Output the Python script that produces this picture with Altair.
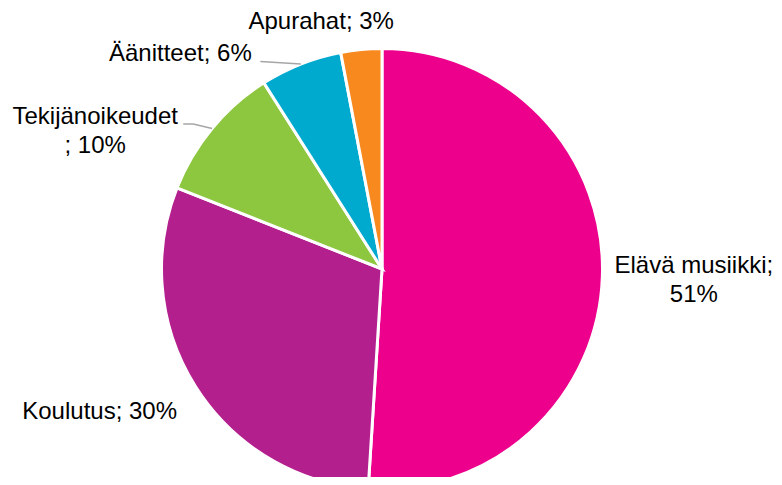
import math
import altair as alt
import pandas as pd

# ---- data ----
categories = ["Elävä musiikki", "Koulutus", "Tekijänoikeudet", "Äänitteet", "Apurahat"]
shares = [51, 30, 10, 6, 3]
label_texts = ["Elävä musiikki;\n51%", "Koulutus; 30%", "Tekijänoikeudet\n; 10%", "Äänitteet; 6%", "Apurahat; 3%"]
colors = ["#EC008C", "#B41F8E", "#8DC63F", "#00A9CE", "#F7891F"]

# ---- layout ----
W, H = 766, 469
CX, CY, R = 374, 261, 220.5
LABEL_R = 306
label_nudge = [(6, -13), (-24, -21), (-51, 43), (-89, 70), (-32, 58)]
# leader line start points relative to label anchor (None = no leader)
leader_start = [None, None, [(88, 7), (98, 7)], [(80, 7)], None]

total = sum(shares)
rows, texts, lines = [], [], []
cum = 0.0
for i, (c, v) in enumerate(zip(categories, shares)):
    mid = 2 * math.pi * (cum + v / 2) / total
    cum += v
    rows.append({"cat": c, "val": v, "idx": i})
    lx = CX + LABEL_R * math.sin(mid) + label_nudge[i][0]
    ly = CY - LABEL_R * math.cos(mid) + label_nudge[i][1]
    texts.append({"cat": c, "txt": label_texts[i], "x": lx, "y": ly})
    if leader_start[i]:
        pts = [(lx + dx, ly + dy) for dx, dy in leader_start[i]]
        pts.append((CX + R * math.sin(mid), CY - R * math.cos(mid)))
        for k, (px, py) in enumerate(pts):
            lines.append({"cat": c, "k": k, "x": px, "y": py})

df = pd.DataFrame(rows)
tdf = pd.DataFrame(texts)
ldf = pd.DataFrame(lines)

pie = alt.Chart(df).mark_arc(outerRadius=R, stroke="white", strokeWidth=3).encode(
    theta=alt.Theta("val:Q", stack=True),
    order=alt.Order("idx:Q"),
    color=alt.Color("cat:N", scale=alt.Scale(domain=categories, range=colors), legend=None),
    x=alt.value(CX),
    y=alt.value(CY),
)

leaders = alt.Chart(ldf).mark_line(color="#A6A6A6", strokeWidth=1.5).encode(
    x=alt.X("x:Q", scale=None),
    y=alt.Y("y:Q", scale=None),
    detail="cat:N",
    order="k:Q",
)

labels = alt.Chart(tdf).mark_text(
    font="Liberation Sans", fontSize=24, color="#000000", lineBreak="\n",
    align="center", baseline="middle", lineHeight=29,
).encode(
    x=alt.X("x:Q", scale=None),
    y=alt.Y("y:Q", scale=None),
    text="txt:N",
)

chart = alt.layer(pie, leaders, labels).properties(
    width=W, height=H, autosize=alt.AutoSizeParams(type="none"), padding=0,
).configure_view(stroke=None)

chart.save("out.html", embed_options={"renderer": "svg", "actions": False})
